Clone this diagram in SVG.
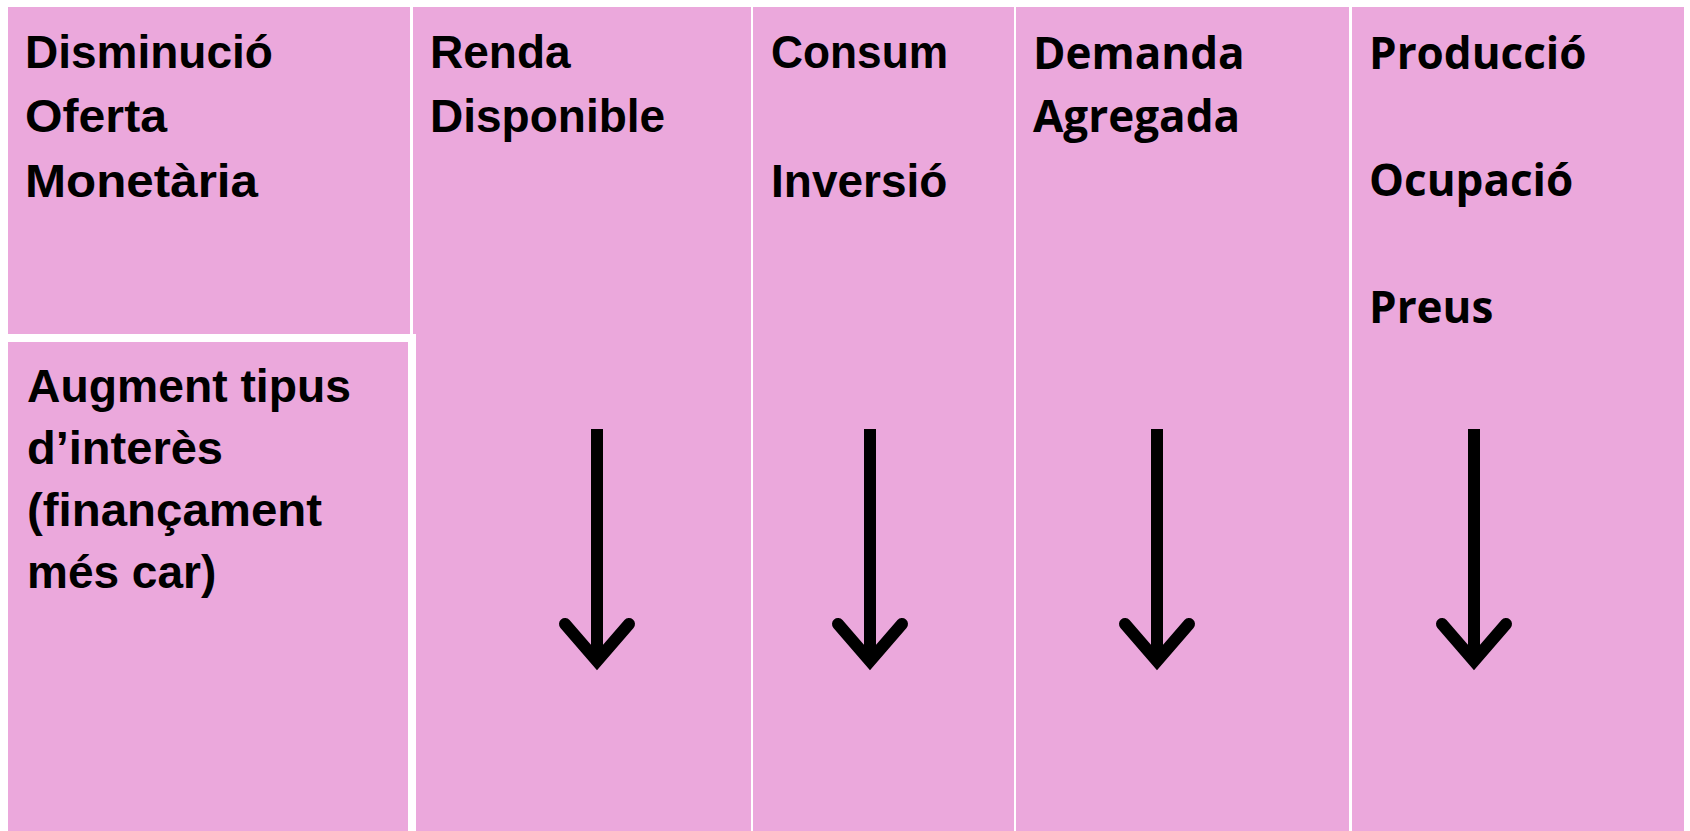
<svg xmlns="http://www.w3.org/2000/svg" width="1690" height="831" viewBox="0 0 1690 831">
<defs>
<style>
.cell{fill:#eba8dc}
.t1{font-family:"Liberation Sans",Arial,sans-serif;font-weight:bold;font-size:46px;fill:#000}
.t2{font-family:"Open Sans","Liberation Sans",sans-serif;font-weight:bold;font-size:44px;fill:#000}
.shaft{stroke:#000;stroke-width:12;fill:none}
.head{stroke:#000;stroke-width:12;fill:none;stroke-linecap:round;stroke-linejoin:miter}
</style>
</defs>
<rect x="0" y="0" width="1690" height="831" fill="#ffffff"/>
<g id="node-disminucio">
<rect class="cell" x="8" y="7" width="402" height="327"/>
<text class="t1" x="25" y="68">Disminució</text>
<text class="t1" x="25" y="132" textLength="142" lengthAdjust="spacingAndGlyphs">Oferta</text>
<text class="t1" x="25" y="197" textLength="233" lengthAdjust="spacingAndGlyphs">Monetària</text>
</g>
<g id="node-renda">
<rect class="cell" x="413" y="7" width="338" height="824"/>
<text class="t1" x="430" y="68">Renda</text>
<text class="t1" x="430" y="132">Disponible</text>
</g>
<g id="node-augment">
<rect x="408" y="334" width="8" height="497" fill="#ffffff"/>
<rect x="8" y="334" width="408" height="8" fill="#ffffff"/>
<rect class="cell" x="8" y="342" width="400" height="489"/>
<text class="t1" x="27" y="402" textLength="324" lengthAdjust="spacingAndGlyphs">Augment tipus</text>
<text class="t1" x="27" y="464" textLength="196" lengthAdjust="spacingAndGlyphs">d’interès</text>
<text class="t1" x="27" y="526" textLength="295" lengthAdjust="spacingAndGlyphs">(finançament</text>
<text class="t1" x="27" y="588">més car)</text>
</g>
<g id="node-consum">
<rect class="cell" x="753" y="7" width="261" height="824"/>
<text class="t1" x="771" y="68" textLength="177" lengthAdjust="spacingAndGlyphs">Consum</text>
<text class="t1" x="771" y="197">Inversió</text>
</g>
<g id="node-demanda">
<rect class="cell" x="1016" y="7" width="333" height="824"/>
<text class="t2" x="1033" y="69">Demanda</text>
<text class="t2" x="1033" y="132">Agregada</text>
</g>
<g id="node-produccio">
<rect class="cell" x="1352" y="7" width="332" height="824"/>
<text class="t2" x="1369" y="69">Producció</text>
<text class="t2" x="1369" y="196">Ocupació</text>
<text class="t2" x="1369" y="323">Preus</text>
</g>
<g id="connectors">
<line class="shaft" x1="597" y1="429" x2="597" y2="660"/>
<polyline class="head" points="565,624 597,661 629,624"/>
<line class="shaft" x1="870" y1="429" x2="870" y2="660"/>
<polyline class="head" points="838,624 870,661 902,624"/>
<line class="shaft" x1="1157" y1="429" x2="1157" y2="660"/>
<polyline class="head" points="1125,624 1157,661 1189,624"/>
<line class="shaft" x1="1474" y1="429" x2="1474" y2="660"/>
<polyline class="head" points="1442,624 1474,661 1506,624"/>
</g>
</svg>
